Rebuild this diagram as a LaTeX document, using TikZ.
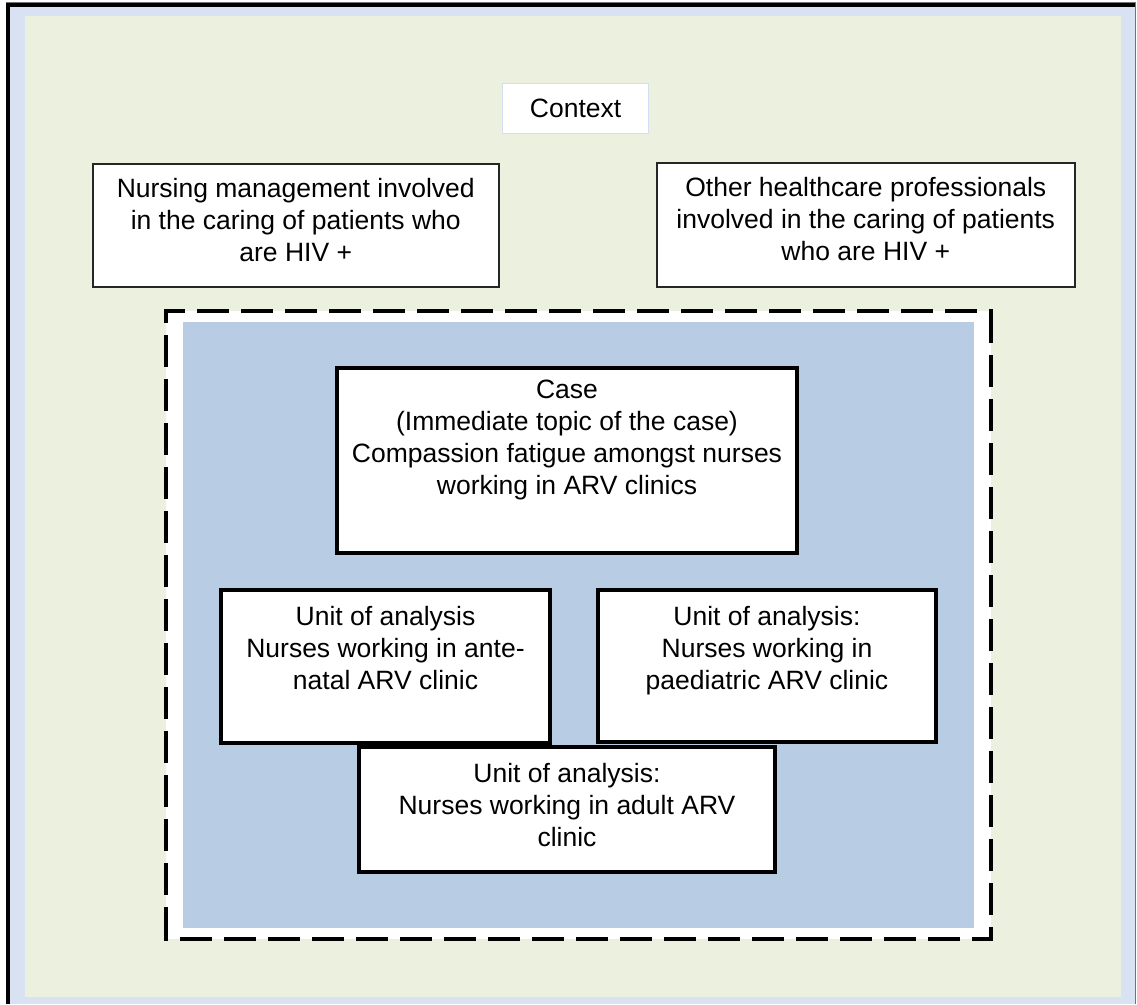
\documentclass[tikz,border=0pt]{standalone}
\usepackage{fontspec}
\setmainfont{Liberation Sans}
\definecolor{bandblue}{HTML}{D9E2F3}
\definecolor{paleGreen}{HTML}{EBF1DE}
\definecolor{caseBlue}{HTML}{B8CCE4}
\definecolor{ctxEdge}{HTML}{D3DEF0}
\begin{document}
\begin{tikzpicture}[x=1pt,y=-1pt,
  txt/.style={anchor=north,align=center,inner sep=0pt,
    font=\fontsize{26.5}{32}\selectfont},
  thinbox/.style={draw=black!85,line width=1.5pt,fill=white,anchor=north west,inner sep=0pt},
  thickbox/.style={draw=black,line width=4pt,fill=white,anchor=north west,inner sep=0pt},
  ctxbox/.style={draw=ctxEdge,line width=1.2pt,fill=white,anchor=north west,inner sep=0pt},
  frameline/.style={line width=4pt,black},
  boundary/.style={line width=4pt,line cap=rect,dash pattern=on 28pt off 16pt}]
\useasboundingbox (0,0) rectangle (1137,1004);
\fill[white] (0,0) rectangle (1137,1004);
% outer frame
\fill[bandblue] (8,5) rectangle (1135,1004);
\draw[black!55,line width=0.8pt] (6,2) -- (1136,2);
\draw[black!55,line width=1pt] (1135.5,2) -- (1135.5,1004);
\draw[frameline] (8,3) -- (8,1004);
\draw[line width=3.5pt] (6,5) -- (1135,5);
\fill[paleGreen] (25,16) rectangle (1121,997);

% context label
\node[ctxbox,minimum width=146pt,minimum height=50pt] (ctx) at (502,83) {};
\node[txt,anchor=center] (ctxt) at (ctx.center) {Context};

% surrounding context boxes
\node[thinbox,minimum width=406pt,minimum height=123pt] (mgmt) at (92,163) {};
\node[txt] (mgmtt) at ([yshift=-15pt]mgmt.north) {Nursing management involved\\in the caring of patients who\\are HIV +};
\node[thinbox,minimum width=418pt,minimum height=124pt] (other) at (656,162) {};
\node[txt] (othert) at ([yshift=-15pt]other.north) {Other healthcare professionals\\involved in the caring of patients\\who are HIV +};

% case boundary: white margin, dashed edge, blue field
\fill[white] (166,311) rectangle (991,939);
\coordinate (bnw) at (166,311);
\coordinate (bne) at (991,311);
\coordinate (bse) at (991,939);
\coordinate (bsw) at (166,939);
\draw[boundary,dash phase=11pt] (bnw) -- (bne);
\draw[boundary,dash phase=11pt] (bse) -- (bsw);
\draw[boundary,dash phase=18pt] (bnw) -- (bsw);
\draw[boundary,dash phase=18pt] (bse) -- (bne);
\fill[caseBlue] (183,322) rectangle (974,928);

% case and units of analysis
\node[thickbox,minimum width=460pt,minimum height=185pt] (case) at (335,366) {};
\node[txt] (caset) at ([yshift=-14pt]case.north) {Case\\(Immediate topic of the case)\\Compassion fatigue amongst nurses\\working in ARV clinics};
\node[thickbox,minimum width=329pt,minimum height=153pt] (ua) at (219,588) {};
\node[txt] (uat) at ([yshift=-18pt]ua.north) {Unit of analysis\\Nurses working in ante-\\natal ARV clinic};
\node[thickbox,minimum width=338pt,minimum height=152pt] (ub) at (596,588) {};
\node[txt] (ubt) at ([yshift=-18pt]ub.north) {Unit of analysis:\\Nurses working in\\paediatric ARV clinic};
\node[thickbox,minimum width=416pt,minimum height=125pt] (uc) at (357,745) {};
\node[txt] (uct) at ([yshift=-18pt]uc.north) {Unit of analysis:\\Nurses working in adult ARV\\clinic};
\end{tikzpicture}
\end{document}
